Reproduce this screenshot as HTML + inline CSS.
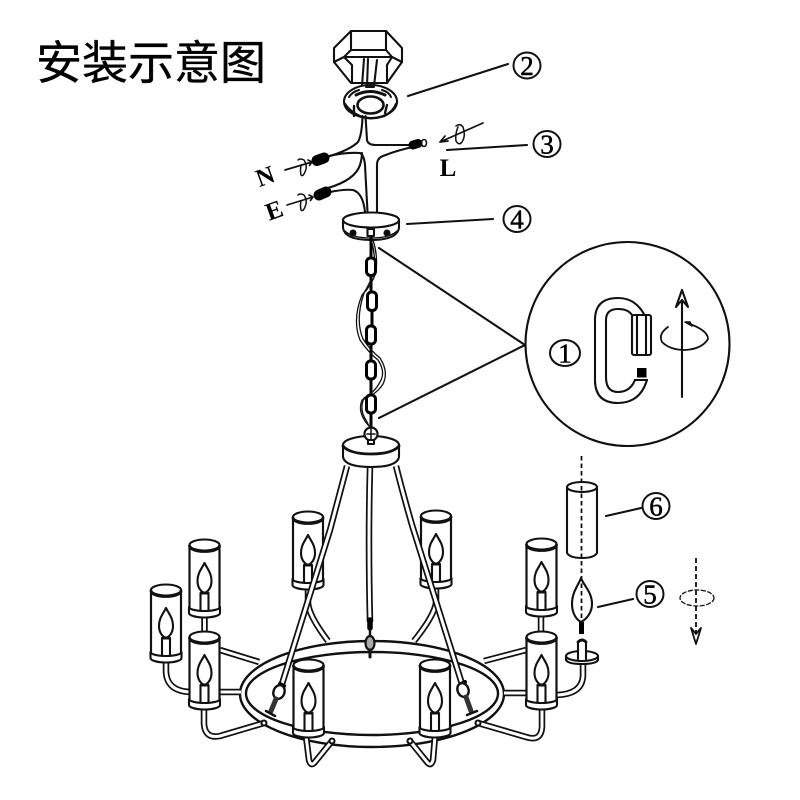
<!DOCTYPE html>
<html><head><meta charset="utf-8"><title>安装示意图</title>
<style>
html,body{margin:0;padding:0;background:#fff;width:800px;height:800px;overflow:hidden}
svg{display:block}
text{fill:#000}
.t{font-family:"Liberation Sans","Noto Sans CJK SC",sans-serif;font-size:46px;stroke:#000;stroke-width:.35px}
.n{font-family:"Liberation Serif",serif;font-size:27px;text-anchor:middle;stroke:#000;stroke-width:.5px}
.l{font-family:"Liberation Serif",serif;font-weight:bold;font-size:25px;text-anchor:middle}
</style></head><body>
<svg width="800" height="800" viewBox="0 0 800 800" xmlns="http://www.w3.org/2000/svg">
<defs>
<g id="c">
  <rect x="-15" y="0" width="30" height="66" fill="#fff"/>
  <path d="M-15 0V64M15 0V64"/>
  <ellipse cx="0" cy="0" rx="15" ry="5.500" fill="#fff"/>
  <path d="M-15 1A15 5.500 0 0 0 15 1" stroke-width="2.800"/>
  <path d="M-4 48V66M4 48V66"/>
  <path d="M-3 48H3" stroke-width="3"/>
  <path d="M0 18C-3 24-7 28-7 36C-7 43-3 47 0 48C3 47 7 43 7 36C7 28 3 24 0 18Z"/>
  <path d="M-15.500 62V68A15.500 4.500 0 0 0 15.500 68V62A15.500 4 0 0 1-15.500 62Z" fill="#fff"/>
</g>
<g id="back">
  <path d="M308 589V603Q309 616 328 641"/>
  <path d="M436 589V603Q434 616 414 641"/>
  <path d="M204.500 615V634"/>
  <path d="M541 615V634"/>
  <path d="M220 650L259 662"/>
  <path d="M526 650L484 661"/>
  <path d="M218 692H241"/>
  <path d="M526 693H504"/>
  <path d="M166 660V672Q167 691 190 692"/>
  <path d="M583 662V676Q582 694 557 695"/>
  <path d="M204 708V724Q205 739 220 736L264 723"/>
  <path d="M542 708V727Q541 742 526 737L478 723"/>
  <path d="M306 736L309 760Q311 767 315 762L332 741"/>
  <path d="M435 736L433 760Q431 767 427 762L410 741"/>
</g>
<g id="arms">
  <path d="M347 466Q338 500 330 530L282 684"/>
  <path d="M396 466Q402 490 412 525L462 684"/>
  <path d="M370 467Q368 540 370 622"/>
</g>
</defs>

<text class="t" x="36" y="79">安装示意图</text>

<g fill="none" stroke="#111" stroke-width="2.100" stroke-linejoin="round" stroke-linecap="round">
  <!-- canopy -->
  <path d="M351 31H386L402 48V62L387 83H351L334 62V48Z"/>
  <path d="M351 31V50H386V31M351 50L344 57H392L386 50M334 62L344 57M402 62L392 57M344 57L352 65M392 57L387 65M352 65V83M387 65V83"/>
  <path d="M364 59L362 86M368 59L367 86M377 60L374 86"/>
  <!-- plate -->
  <ellipse cx="370.500" cy="101.500" rx="26.500" ry="16.500" fill="#fff"/>
  <ellipse cx="370.500" cy="105" rx="13" ry="8.500" stroke-width="2.600"/>
  <path d="M356 95Q370 88 385 95" stroke-width="3"/>
  <path d="M349 97Q352 92 359 90M391 97Q389 92 382 90M366 87H374" stroke-width="2"/>
  <path d="M345 104Q350 112 362 117Q372 120 384 116Q393 112 396 104" stroke-width="2.400"/>
  <path d="M354 106V116M387 105L385 113" stroke-width="2.400"/>
  <!-- wires -->
  <path d="M362.500 116Q362 135 358 142Q350 150 327 157"/>
  <path d="M327 156.500Q345 152 360 153Q364 155 365 165L367.500 212"/>
  <path d="M365.500 116L367 140Q368 145 376 145H412"/>
  <path d="M377 212V165Q377 158 383 156Q398 150 413 147"/>
  <path d="M328 188Q355 180 360 165Q362 158 362 153"/>
  <path d="M330 192Q345 189 353 190Q363 193 365 212"/>
  <path d="M317 160.500L324 158M319 195L326 192" stroke="#000" stroke-width="11" stroke-linecap="round"/>
  <path d="M413 145L418 143.500" stroke="#000" stroke-width="9" stroke-linecap="round"/>
  <ellipse cx="424" cy="143" rx="2.500" ry="3.500" stroke-width="1.600"/>
  <!-- N E L arrows -->
  <path d="M285 170L312 162M308 160L312 162L309.500 165.500" stroke-width="1.700"/>
  <path d="M287 205L313 197M309 195L313 197L310.500 200.500" stroke-width="1.700"/>
  <path d="M483 123L440 142M448 141L440 142L445 136" stroke-width="1.700"/>
  <path d="M298 160Q300 158 304 160Q308 166 305 172Q303 177 301 175M301 175Q300 170 301 166" stroke-width="1.500"/>
  <path d="M298 195Q300 193 304 195Q308 201 305 207Q303 212 301 210M301 210Q300 205 301 201" stroke-width="1.500"/>
  <path d="M456 126Q460 123 463 127Q466 136 462 142Q459 146 456 141Q455 134 458 127" stroke-width="1.500"/>
  <!-- ceiling plate 4 -->
  <path d="M343 220V228Q345 240 371 240Q397 240 399 228V220" fill="#fff"/>
  <ellipse cx="371" cy="220" rx="28" ry="7.500" fill="#fff"/>
  <path d="M345 231Q352 238 371 238Q390 238 397 231" stroke-width="1.300"/>
  <circle cx="353" cy="233" r="2.500" fill="#000"/>
  <circle cx="387" cy="233" r="2.500" fill="#000"/>
  <rect x="367.500" y="229" width="6.500" height="7" fill="#fff"/>
  <!-- leaders -->
  <path d="M408 96L508 64M447 150L527 145M407 224L493 219"/>
  <path d="M379 248L525 345L379 418"/>
  <path d="M606 516L641 508M598 607L633 599"/>
  <!-- chain -->
  <path d="M371 238V258M371 275V293M372 310V326M371 344V361M371 379V395M371 413V428" stroke="#000" stroke-width="3"/>
  <path d="M373 240Q378 255 376 272Q372 285 362 295Q352 320 360 340Q368 352 378 360Q386 372 380 382Q375 392 364 398Q359 410 366 420L370 428" stroke-width="1.300"/>
  <path d="M371 240Q376 255 374 272Q370 283 364 293Q355 320 363 339Q370 350 380 358Q389 372 383 384Q377 394 362 400Q357 412 368 425" stroke-width="1.300"/>
  <g fill="#fff" stroke="#000" stroke-width="3">
    <rect x="366.500" y="258" width="9" height="17.500" rx="4"/>
    <rect x="367.500" y="292" width="9" height="18.500" rx="4"/>
    <rect x="366.500" y="326" width="9" height="18" rx="4"/>
    <rect x="366.500" y="361" width="9" height="18" rx="4"/>
    <rect x="366.500" y="395" width="9" height="18" rx="4"/>
  </g>
  <!-- ring -->
  <ellipse cx="372" cy="694" rx="132" ry="53" stroke-width="2.400"/>
  <ellipse cx="372" cy="693.500" rx="126" ry="41.500" stroke-width="2.400"/>
  <!-- branch tubes -->
  <use href="#back" stroke="#111" stroke-width="6.500" stroke-linecap="butt"/>
  <use href="#back" stroke="#fff" stroke-width="3" stroke-linecap="butt"/>
  <circle cx="264" cy="723" r="2.500" fill="#fff"/>
  <circle cx="478" cy="723" r="2.500" fill="#fff"/>
  <circle cx="332" cy="741" r="2.500" fill="#fff"/>
  <circle cx="410" cy="741" r="2.500" fill="#fff"/>
  <!-- candles -->
  <use href="#c" x="308" y="517"/>
  <use href="#c" x="436" y="516"/>
  <use href="#c" x="204.500" y="545"/>
  <use href="#c" x="541.500" y="544"/>
  <use href="#c" x="166" y="590"/>
  <use href="#c" x="204.500" y="637"/>
  <use href="#c" x="541.500" y="637"/>
  <use href="#c" x="308.500" y="665"/>
  <use href="#c" x="435" y="665"/>
  <!-- long arms -->
  <use href="#arms" stroke="#111" stroke-width="6.500" stroke-linecap="butt"/>
  <use href="#arms" stroke="#fff" stroke-width="3" stroke-linecap="butt"/>
  <!-- hub -->
  <path d="M343 445V457Q345 467 371 467Q397 467 399 457V445" fill="#fff"/>
  <ellipse cx="371" cy="445" rx="28" ry="9" fill="#fff"/>
  <path d="M343 446Q350 454 371 454Q392 454 399 446" stroke-width="2.800"/>
  <circle cx="371" cy="434" r="6.500" fill="#fff" stroke-width="2.200"/>
  <path d="M371 429V439M367 434H375" stroke-width="1.500"/>
  <rect x="368" y="440" width="6" height="4" fill="#fff"/>
  <!-- shackles -->
  <path d="M370 620V628" stroke="#000" stroke-width="5.500"/>
  <path d="M370 630V637" stroke-width="2.400"/>
  <ellipse cx="370" cy="643" rx="4.500" ry="7" fill="#aaa" stroke-width="2.200"/>
  <path d="M370 650V657" stroke-width="3"/>
  <path d="M280 684L284 686" stroke="#000" stroke-width="4"/>
  <ellipse cx="279" cy="692" rx="5.500" ry="7" fill="#fff" transform="rotate(20 279 692)" stroke-width="2.400"/>
  <path d="M276 699L271 711" stroke="#333" stroke-width="5"/>
  <path d="M266 711L275 716" stroke-width="2.500"/>
  <path d="M461 684L465 682" stroke="#000" stroke-width="4"/>
  <ellipse cx="463" cy="690" rx="5.500" ry="7" fill="#fff" transform="rotate(-20 463 690)" stroke-width="2.400"/>
  <path d="M466 697L471 711" stroke="#333" stroke-width="5"/>
  <path d="M467 715L477 711" stroke-width="2.500"/>
  <!-- exploded shade -->
  <path d="M567 487V553Q570 558 582 558Q594 558 597 553V487" fill="#fff"/>
  <ellipse cx="582" cy="487" rx="15" ry="5" fill="#fff"/>
  <path d="M581.500 456V618" stroke-width="1.800" stroke-dasharray="4.500 3" stroke-linecap="butt"/>
  <path d="M581 578C578 586 572 592 572 604C572 614 577 620 581 622C585 620 592 614 592 604C592 592 584 586 581 578Z"/>
  <path d="M581.500 622V634" stroke="#000" stroke-width="5" stroke-linecap="butt"/>
  <!-- socket -->
  <path d="M566 656V660Q568 664 582 664Q596 664 598 660V656" fill="#fff"/>
  <ellipse cx="582" cy="656" rx="16" ry="5" fill="#fff"/>
  <path d="M578 659V642Q582 638 586 642V659" fill="#fff"/>
  <path d="M578 642Q582 638 586 642" stroke-width="2.800"/>
  <!-- rotate glyph -->
  <path d="M696 558V636" stroke-width="1.800" stroke-dasharray="5 3" stroke-linecap="butt"/>
  <path d="M691 628L696 644L701 628L696 634Z" fill="#fff" stroke-width="1.800"/>
  <ellipse cx="697" cy="598" rx="17" ry="8" stroke-width="1.300" stroke-dasharray="4 2.500"/>
  <!-- detail circle -->
  <circle cx="627.500" cy="344" r="102"/>
  <path d="M645 316Q636 298 618 298Q595 298 595 320V380Q595 403 618 403Q640 403 647 380"/>
  <path d="M632 315Q628 309 618 309Q606 309 606 320V377Q606 392 618 392Q630 392 635 380"/>
  <path d="M635 380H647"/>
  <rect x="632" y="315" width="19" height="40" rx="2" fill="#fff"/>
  <path d="M637 315V355M646 315V355"/>
  <rect x="637" y="368" width="9.500" height="9.500" fill="#000" stroke="none"/>
  <path d="M682 397V300"/>
  <path d="M676 307L682 290L688 307L682 300Z" fill="#fff"/>
  <path d="M668 327Q658 334 662 342Q670 350 685 350Q702 349 708 339Q708 330 687 323" stroke-width="1.800"/>
  <path d="M685 322L692 326L690 322Z" fill="#000" stroke-width="1.500"/>
  <!-- numbered circles -->
  <g stroke-width="2" fill="#fff">
    <ellipse cx="527" cy="65.500" rx="13.500" ry="13"/>
    <ellipse cx="547" cy="144" rx="13.500" ry="13"/>
    <ellipse cx="517" cy="219" rx="13.500" ry="13"/>
    <ellipse cx="565" cy="353" rx="15" ry="13"/>
    <ellipse cx="650" cy="594" rx="13.500" ry="13"/>
    <ellipse cx="656" cy="506" rx="13.500" ry="13"/>
  </g>
</g>
<text class="n" x="527" y="75">2</text>
<text class="n" x="547" y="153.500">3</text>
<text class="n" x="517" y="228.500">4</text>
<text class="n" x="565" y="362.500">1</text>
<text class="n" x="650" y="603.500">5</text>
<text class="n" x="656" y="515.500">6</text>
<text class="l" x="0" y="0" transform="translate(268 184) rotate(-20)">N</text>
<text class="l" x="0" y="0" transform="translate(277 218) rotate(-20)">E</text>
<text class="l" x="448" y="176">L</text>
</svg>
</body></html>
